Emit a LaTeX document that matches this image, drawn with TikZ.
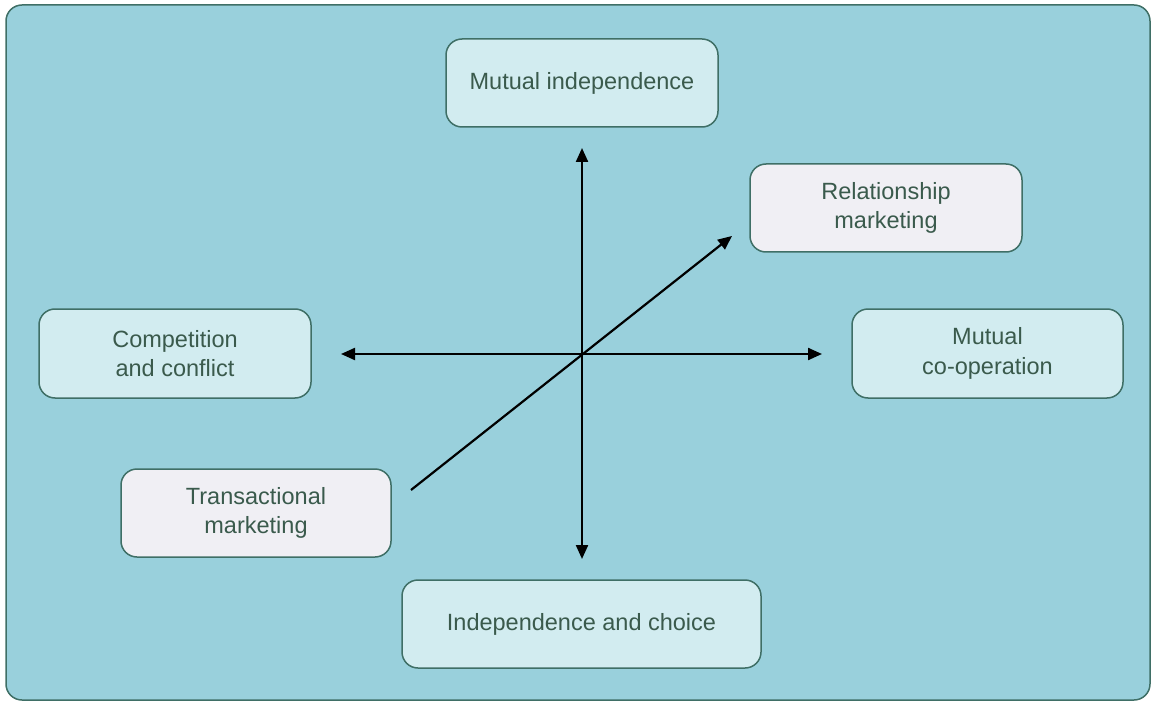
\documentclass[tikz,border=0pt]{standalone}
\usepackage{fontspec}
\setmainfont{Liberation Sans}
\usetikzlibrary{arrows.meta}
\definecolor{bgc}{HTML}{99D0DC}
\definecolor{edgec}{HTML}{3F6F66}
\definecolor{cyanbox}{HTML}{D2ECF0}
\definecolor{greybox}{HTML}{F0EFF4}
\definecolor{txt}{HTML}{3A5A4C}
\tikzset{
  box/.style={draw=edgec, line width=1.5pt, rounded corners=16pt, fill=cyanbox,
    text=txt, font=\fontsize{23.5}{29.5}\selectfont, align=center, inner sep=0pt},
  pbox/.style={box, fill=greybox},
  tip/.tip={Triangle[length=14pt,width=12pt]},
  arr/.style={line width=2.2pt, -tip},
  darr/.style={line width=2.2pt, tip-tip}
}
\begin{document}
\begin{tikzpicture}[x=1pt,y=-1pt]
\useasboundingbox (0,0) rectangle (1153,703);
\draw[draw=edgec, line width=1.5pt, fill=bgc, rounded corners=16pt] (6,5) rectangle (1150,700);
\node[box, minimum width=272pt, minimum height=88pt] (mi) at (582,83) {Mutual independence};
\node[pbox, minimum width=272pt, minimum height=88pt] (rm) at (886,208) {Relationship\\marketing};
\node[box, minimum width=272pt, minimum height=89pt] (cc) at (175,353.5) {Competition\\and conflict};
\node[box, minimum width=271pt, minimum height=89pt] (mc) at (987.5,353.5) {Mutual\\co-operation};
\node[pbox, minimum width=270pt, minimum height=88pt] (tm) at (256,513) {Transactional\\marketing};
\node[box, minimum width=359pt, minimum height=88pt] (ic) at (581.5,624) {Independence and choice};
\coordinate (c) at (582,354);
\coordinate (top) at (582,148);
\coordinate (bot) at (582,559);
\coordinate (lft) at (341,354);
\coordinate (rgt) at (822,354);
\coordinate (ds) at (411,490);
\coordinate (de) at (732,236);
\draw[darr] (top) -- (bot);
\draw[darr] (lft) -- (rgt);
\draw[arr] (ds) -- (de);
\end{tikzpicture}
\end{document}
